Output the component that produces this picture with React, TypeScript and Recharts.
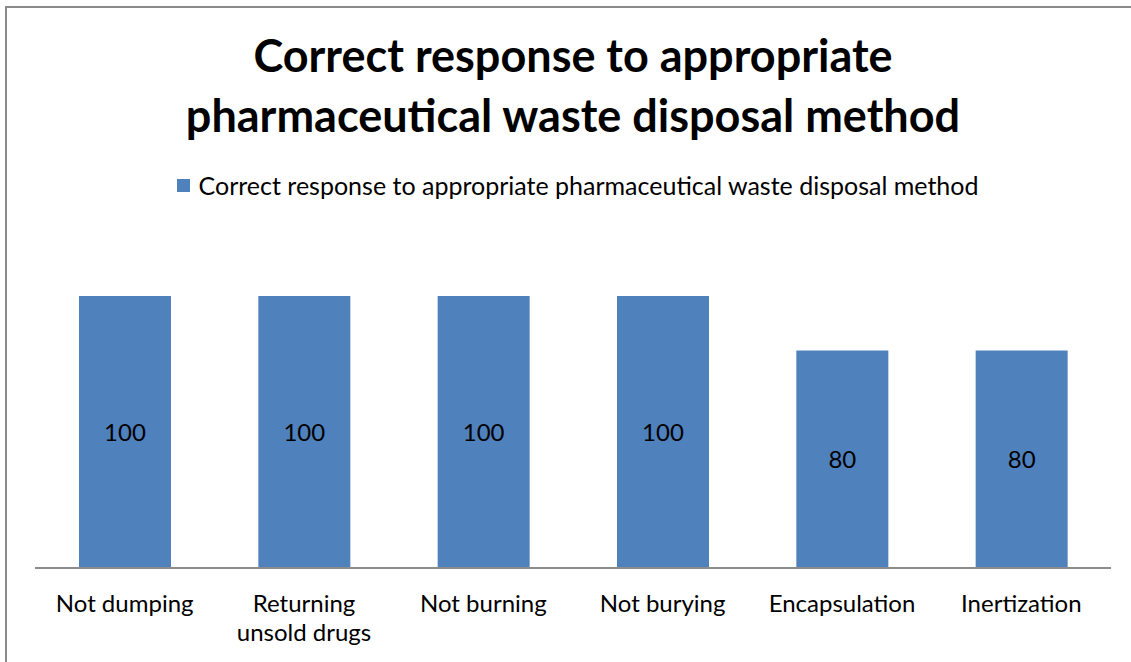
import React from "react";
import { BarChart, Bar, XAxis, YAxis, LabelList } from "recharts";

const categories = [
  "Not dumping",
  "Returning unsold drugs",
  "Not burning",
  "Not burying",
  "Encapsulation",
  "Inertization",
];
const correctPercent = [100, 100, 100, 100, 80, 80];
const seriesName = "Correct response to appropriate pharmaceutical waste disposal method";
const titleLines = ["Correct response to appropriate", "pharmaceutical waste disposal method"];

const data = categories.map((c, i) => ({ name: c, value: correctPercent[i] }));

const FONT = "Lato, 'Open Sans', sans-serif";

function CategoryTick({ x, y, payload }: any) {
  const label: string = payload.value;
  // long labels wrap after first word, like the original
  const lines = label.length > 16 ? [label.split(" ")[0], label.split(" ").slice(1).join(" ")] : [label];
  return (
    <text x={x} y={y + 36} textAnchor="middle" fill="#000" fontSize={24} fontFamily={FONT}>
      {lines.map((l, i) => (
        <tspan key={i} x={x} dy={i === 0 ? 0 : 29}>
          {l}
        </tspan>
      ))}
    </text>
  );
}

export default function App() {
  return (
    <div style={{ position: "fixed", left: 0, top: 0, width: 1131, height: 662, background: "#fff", overflow: "hidden" }}>
      <div style={{ position: "absolute", left: 5, top: 6, width: 1140, height: 700, borderLeft: "2px solid #8a8a8a", borderTop: "2px solid #8a8a8a" }} />
      <div
        style={{
          position: "absolute",
          left: 0,
          top: 25,
          width: 1146,
          textAlign: "center",
          fontFamily: FONT,
          fontWeight: 700,
          fontSize: 45,
          lineHeight: "60px",
          color: "#000",
        }}
      >
        {titleLines.map((t) => (
          <div key={t}>{t}</div>
        ))}
      </div>
      <div
        style={{
          position: "absolute",
          left: 0,
          top: 170,
          width: 1155,
          display: "flex",
          justifyContent: "center",
          alignItems: "center",
          fontFamily: FONT,
          fontSize: 25,
          lineHeight: "30px",
          color: "#000",
        }}
      >
        <span style={{ width: 13, height: 13, background: "#4f81bd", display: "inline-block", marginRight: 9 }} />
        <span>{seriesName}</span>
      </div>
      <BarChart width={1131} height={662} data={data} margin={{ top: 296, right: 20, bottom: 0, left: 35 }} style={{ position: "absolute", left: 0, top: 0 }}>
        <XAxis dataKey="name" height={94} axisLine={{ stroke: "#8c8c8c", strokeWidth: 2 }} tickLine={false} tick={<CategoryTick />} interval={0} />
        <YAxis hide domain={[0, 100]} />
        <Bar dataKey="value" name={seriesName} fill="#4f81bd" barSize={92} isAnimationActive={false}>
          <LabelList dataKey="value" position="center" fill="#000" fontSize={24} fontFamily={FONT} />
        </Bar>
      </BarChart>
    </div>
  );
}
